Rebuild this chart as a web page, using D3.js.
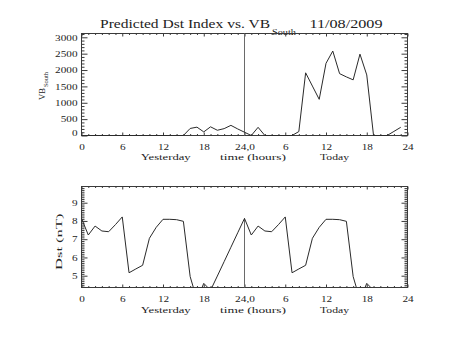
<!DOCTYPE html>
<html>
<head>
<meta charset="utf-8">
<script src="https://cdn.jsdelivr.net/npm/d3@7/dist/d3.min.js"></script>
<style>
  html, body { margin: 0; padding: 0; background: #fff; }
  svg { display: block; }
  text { font-family: "Liberation Serif", "Times New Roman", serif; fill: #222; }
</style>
</head>
<body>
<svg id="chart" width="453" height="340"></svg>
<script>
// ---- data -------------------------------------------------------------
// hourly samples over two days: hours 0..47 (yesterday 0-23, today 24-47)
const vbHours = d3.range(0, 48);
const vbSouth = [
  0, 0, 0, 0, 0, 0, 0, 0, 0, 0, 0, 0, 0, 0, 0, 0,
  215, 255, 110, 265, 160, 210, 310, 200,
  100, 0, 250, 0, 0, 0, 0, 0,
  120, 1915, 1510, 1105, 2205, 2580, 1890, 1790,
  1700, 2485, 1850, 0, 0, 0, 125, 250
];

// Dst (nT) per hour, yesterday (0..23) and today (0..19)
const dstYesterday = [
  8.14, 7.23, 7.72, 7.45, 7.41, 7.80, 8.22, 5.16, 5.37, 5.57, 7.05, 7.65,
  8.09, 8.09, 8.07, 7.98, 4.95, 3.68, 4.58, 4.20, 4.98, 5.77, 6.56, 7.35
];
const dstToday = [
  8.14, 7.23, 7.72, 7.45, 7.41, 7.80, 8.22, 5.16, 5.37, 5.57, 7.05, 7.65,
  8.09, 8.09, 8.07, 7.98, 4.95, 3.68, 4.58, 4.20
];

const xMajorTicks = [0, 6, 12, 18, 24, 30, 36, 42, 48];
const xTickLabels = ["0", "6", "12", "18", "24,0", "6", "12", "18", "24"];
const vbTicks = [0, 500, 1000, 1500, 2000, 2500, 3000];
const dstTicks = [5, 6, 7, 8, 9];

// ---- layout -----------------------------------------------------------
const svg = d3.select("#chart");
const frameColor = "#3a3a3a";
const lineColor = "#2a2a2a";
const L = 81.5, R = 407.5;

const x = d3.scaleLinear().domain([0, 48]).range([L, R]);

const panels = [
  { top: 33.5, bottom: 135.5 },
  { top: 186.5, bottom: 287.5 }
];

const yVB = d3.scaleLinear().domain([0, 3116]).range([panels[0].bottom, panels[0].top]);
const yDst = d3.scaleLinear().domain([4.353, 9.888]).range([panels[1].bottom, panels[1].top]);

// minor tick values
const xMinor = d3.range(0, 49).filter(h => h % 6 !== 0);
const vbMinor = d3.range(100, 3101, 100).filter(v => v % 500 !== 0);
const dstMinor = d3.range(44, 99).map(v => v / 10).filter(v => Math.abs(v - Math.round(v)) > 1e-6);

// wide, evenly spaced numerals for tick labels
const labelWidth = s => Array.from(s).reduce((w, c) => w + (c === "," ? 3 : 5.6), 0);
function styleTickText(sel) {
  sel.attr("font-size", 8.5)
    .attr("font-family", "Liberation Serif")
    .attr("fill", "#222")
    .attr("lengthAdjust", "spacingAndGlyphs")
    .attr("textLength", function () { return labelWidth(this.textContent); });
}

function addAxis(gen, tx, ty) {
  const g = svg.append("g").attr("transform", `translate(${tx},${ty})`).call(gen);
  g.select(".domain").remove();
  g.selectAll("line").attr("stroke", frameColor).attr("stroke-width", 1);
  return g;
}

function framePanel(p, y, yMajor, yMinor, yFmt) {
  // box
  svg.append("rect")
    .attr("x", L).attr("y", p.top)
    .attr("width", R - L).attr("height", p.bottom - p.top)
    .attr("fill", "none").attr("stroke", frameColor).attr("stroke-width", 1);

  // x ticks (bottom with labels, top without) – pointing inward
  const xb = addAxis(d3.axisBottom(x).tickValues(xMajorTicks).tickSizeInner(-3).tickSizeOuter(0)
    .tickFormat((d, i) => xTickLabels[i]), 0, p.bottom);
  xb.selectAll("text").attr("y", 14).attr("dy", null).call(styleTickText);
  addAxis(d3.axisBottom(x).tickValues(xMinor).tickSizeInner(-1.5).tickSizeOuter(0).tickFormat(""), 0, p.bottom);
  addAxis(d3.axisTop(x).tickValues(xMajorTicks).tickSizeInner(-3).tickSizeOuter(0).tickFormat(""), 0, p.top);
  addAxis(d3.axisTop(x).tickValues(xMinor).tickSizeInner(-1.5).tickSizeOuter(0).tickFormat(""), 0, p.top);

  // y ticks (left with labels, right without)
  const yl = addAxis(d3.axisLeft(y).tickValues(yMajor).tickSizeInner(-6).tickSizeOuter(0)
    .tickPadding(4).tickFormat(yFmt), L, 0);
  yl.selectAll("text").call(styleTickText);
  addAxis(d3.axisLeft(y).tickValues(yMinor).tickSizeInner(-3).tickSizeOuter(0).tickFormat(""), L, 0);
  addAxis(d3.axisRight(y).tickValues(yMajor).tickSizeInner(-6).tickSizeOuter(0).tickFormat(""), R, 0);
  addAxis(d3.axisRight(y).tickValues(yMinor).tickSizeInner(-3).tickSizeOuter(0).tickFormat(""), R, 0);
  return yl;
}

function xTitles(baseline) {
  const items = [
    { t: "Yesterday", x: 140.7, w: 50 },
    { t: "time (hours)", x: 220, w: 66 },
    { t: "Today", x: 320, w: 29 }
  ];
  items.forEach(it => {
    svg.append("text").attr("x", it.x).attr("y", baseline)
      .attr("font-size", 9).attr("textLength", it.w)
      .attr("lengthAdjust", "spacingAndGlyphs").text(it.t);
  });
}

// ---- title --------------------------------------------------------------
svg.append("text").attr("x", 100).attr("y", 28.3).attr("font-size", 11.6)
  .attr("textLength", 170).attr("lengthAdjust", "spacingAndGlyphs")
  .text("Predicted Dst Index vs. VB");
svg.append("text").attr("x", 272).attr("y", 35).attr("font-size", 7.5)
  .attr("textLength", 24).attr("lengthAdjust", "spacingAndGlyphs").text("South");
svg.append("text").attr("x", 309.5).attr("y", 28.3).attr("font-size", 11.6)
  .attr("textLength", 73).attr("lengthAdjust", "spacingAndGlyphs").text("11/08/2009");

// ---- top panel: VB_South -------------------------------------------------
const yl1 = framePanel(panels[0], yVB, vbTicks, vbMinor, d => String(d));
yl1.selectAll("text").filter(d => d === 0).attr("y", -2.8);

svg.append("line")
  .attr("x1", x(24)).attr("x2", x(24))
  .attr("y1", yVB.range()[0]).attr("y2", yVB.range()[1])
  .attr("stroke", "#6a6a6a").attr("stroke-width", 1);

svg.append("path")
  .datum(vbHours.map((h, i) => [h, vbSouth[i]]))
  .attr("fill", "none").attr("stroke", lineColor).attr("stroke-width", 1)
  .attr("d", d3.line().x(d => x(d[0])).y(d => yVB(d[1])));

xTitles(159.5);

// y title: VB with subscript
const vbTitle = svg.append("g").attr("transform", "translate(45,100) rotate(-90)");
vbTitle.append("text").attr("x", 0).attr("y", 0).attr("font-size", 9)
  .attr("textLength", 12).attr("lengthAdjust", "spacingAndGlyphs").text("VB");
vbTitle.append("text").attr("x", 13).attr("y", 3).attr("font-size", 6)
  .attr("textLength", 15).attr("lengthAdjust", "spacingAndGlyphs").text("South");

// ---- bottom panel: Dst ---------------------------------------------------
framePanel(panels[1], yDst, dstTicks, dstMinor, d => String(d));

svg.append("clipPath").attr("id", "dstClip")
  .append("rect").attr("x", L).attr("y", panels[1].top)
  .attr("width", R - L).attr("height", panels[1].bottom - panels[1].top);

const dstLine = d3.line().x(d => x(d[0])).y(d => yDst(d[1]));
const dstSeries = dstYesterday.map((v, i) => [i, v])
  .concat(dstToday.map((v, i) => [24 + i, v]));

svg.append("line")
  .attr("x1", x(24)).attr("x2", x(24))
  .attr("y1", yDst.range()[0]).attr("y2", yDst(dstToday[0]))
  .attr("stroke", "#6a6a6a").attr("stroke-width", 1);

svg.append("path").datum(dstSeries)
  .attr("clip-path", "url(#dstClip)")
  .attr("fill", "none").attr("stroke", lineColor).attr("stroke-width", 1)
  .attr("d", dstLine);

xTitles(313);

svg.append("text").attr("transform", "translate(62,270) rotate(-90)")
  .attr("font-size", 8).attr("textLength", 56.5)
  .attr("lengthAdjust", "spacingAndGlyphs").text("Dst (nT)");
</script>
</body>
</html>
